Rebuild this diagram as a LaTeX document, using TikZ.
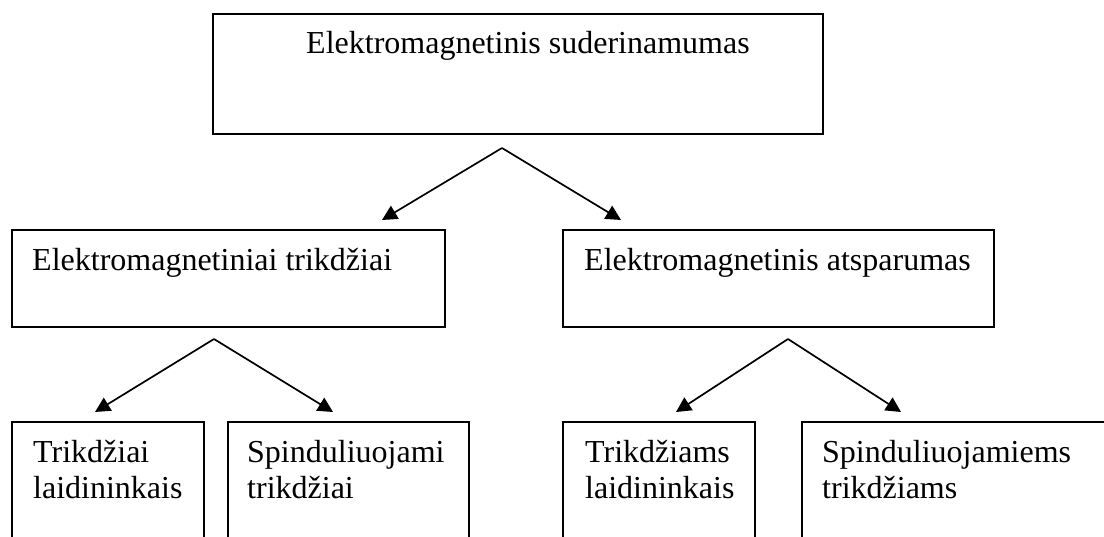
\documentclass[tikz,border=0pt]{standalone}
\usepackage{fontspec}
\setmainfont{Liberation Serif}
\usetikzlibrary{arrows.meta}
\begin{document}
\begin{tikzpicture}[x=1pt,y=-1pt,
  box/.style={draw, line width=1.8pt, anchor=north west, inner sep=0pt},
  lbl/.style={inner sep=0pt, font=\fontsize{32}{36}\selectfont, align=left},
  arr/.style={line width=1.7pt, -{Triangle[length=15pt,width=15pt]}}]
\useasboundingbox (0,0) rectangle (1104,536);
\clip (0,0) rectangle (1104,536);
% boxes
\node[box, minimum width=610pt, minimum height=120pt] (top) at (212,13) {};
\node[box, minimum width=433pt, minimum height=97pt] (ml) at (11,229) {};
\node[box, minimum width=431pt, minimum height=97pt] (mr) at (562,229) {};
\node[box, minimum width=192pt, minimum height=140pt] (b1) at (11,421) {};
\node[box, minimum width=241pt, minimum height=140pt] (b2) at (227,421) {};
\node[box, minimum width=192pt, minimum height=140pt] (b3) at (562,421) {};
\node[box, minimum width=320pt, minimum height=140pt] (b4) at (801,421) {};
% texts
\node[lbl, anchor=base west] (topt) at (306,53) {Elektromagnetinis suderinamumas};
\node[lbl, anchor=base west] (mlt) at (32,270) {Elektromagnetiniai trikdžiai};
\node[lbl, anchor=base west] (mrt) at (584,270) {Elektromagnetinis atsparumas};
\node[lbl, anchor=north west] (b1t) at (33,440) {Trikdžiai\\laidininkais};
\node[lbl, anchor=north west] (b2t) at (247,440) {Spinduliuojami\\trikdžiai};
\node[lbl, anchor=north west] (b3t) at (585,440) {Trikdžiams\\laidininkais};
\node[lbl, anchor=north west] (b4t) at (822,440) {Spinduliuojamiems\\trikdžiams};
% connector points
\coordinate (a1) at (502,148);
\coordinate (t1l) at (382,220);
\coordinate (t1r) at (621,220);
\coordinate (a2) at (214,339);
\coordinate (t2l) at (95,412);
\coordinate (t2r) at (333,412);
\coordinate (a3) at (788,339);
\coordinate (t3l) at (676,412);
\coordinate (t3r) at (901,412);
\draw[arr] (a1) -- (t1l);
\draw[arr] (a1) -- (t1r);
\draw[arr] (a2) -- (t2l);
\draw[arr] (a2) -- (t2r);
\draw[arr] (a3) -- (t3l);
\draw[arr] (a3) -- (t3r);
\end{tikzpicture}
\end{document}
